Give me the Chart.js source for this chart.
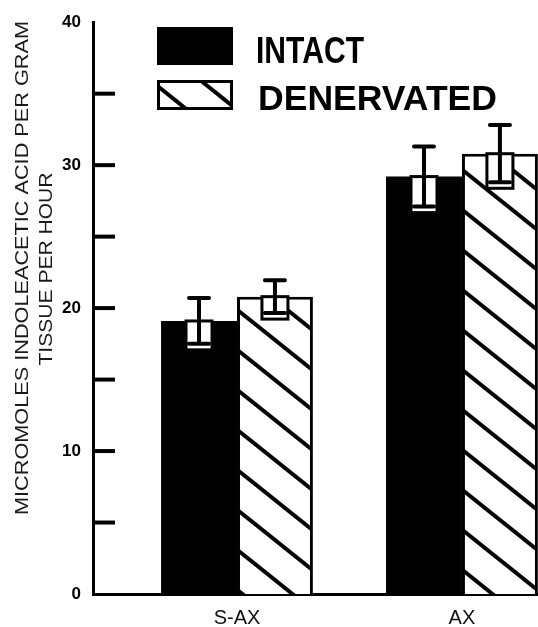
<!DOCTYPE html>
<html>
<head>
<meta charset="utf-8">
<script src="https://cdn.jsdelivr.net/npm/chart.js@4"></script>
<style>
body { margin: 0; background: #fff; }
canvas { display: block; }
</style>
</head>
<body>
<canvas id="iaaChart" width="538" height="627"></canvas>
<script>
const categories = ['S-AX', 'AX'];
const seriesNames = ['INTACT', 'DENERVATED'];
const intactValues = [19.1, 29.2];
const intactErrors = [1.6, 2.1];
const denervatedValues = [20.8, 30.8];
const denervatedErrors = [1.15, 2.0];
const yLabelTicks = [0, 10, 20, 30, 40];
const yTitle = ['MICROMOLES INDOLEACETIC ACID PER GRAM', 'TISSUE PER HOUR'];

const canvas = document.getElementById('iaaChart');
const ctx = canvas.getContext('2d');

// diagonal hatch, slope 0.8, 40px apart vertically
function makeHatch() {
  const tile = document.createElement('canvas');
  tile.width = 50;
  tile.height = 40;
  const g = tile.getContext('2d');
  g.fillStyle = '#fff';
  g.fillRect(0, 0, 50, 40);
  g.strokeStyle = '#000';
  g.lineWidth = 4;
  for (const n of [-1, 0, 1]) {
    g.beginPath();
    g.moveTo(-5, -4 + 40 * n);
    g.lineTo(55, 44 + 40 * n);
    g.stroke();
  }
  return ctx.createPattern(tile, 'repeat');
}
const hatch = makeHatch();

function fitText(c, text, x, y, width, font) {
  c.font = font;
  const w = c.measureText(text).width;
  c.save();
  c.translate(x, y);
  c.scale(width / w, 1);
  c.fillText(text, 0, 0);
  c.restore();
}

const errorBars = {
  id: 'errorBars',
  afterDatasetsDraw(chart) {
    const y = chart.scales.y;
    const c = chart.ctx;
    chart.data.datasets.forEach((ds, di) => {
      chart.getDatasetMeta(di).data.forEach((bar, i) => {
        const v = ds.data[i].y;
        const e = ds.errors[i];
        const top = y.getPixelForValue(v + e);
        const bot = y.getPixelForValue(v - e);
        c.save();
        c.fillStyle = '#fff';
        c.strokeStyle = '#000';
        c.lineWidth = 3;
        c.fillRect(bar.x - 13, bar.y, 26, bot + 6 - bar.y);
        c.strokeRect(bar.x - 13, bar.y, 26, bot + 6 - bar.y);
        c.lineWidth = 4;
        c.beginPath();
        c.moveTo(bar.x, top);
        c.lineTo(bar.x, bot);
        c.stroke();
        c.lineCap = 'round';
        c.beginPath();
        c.moveTo(bar.x - 10, top);
        c.lineTo(bar.x + 10, top);
        c.moveTo(bar.x - 10, bot);
        c.lineTo(bar.x + 10, bot);
        c.stroke();
        c.restore();
      });
    });
  }
};

const decorations = {
  id: 'decorations',
  afterDraw(chart) {
    const c = chart.ctx;
    const area = chart.chartArea;
    const y = chart.scales.y;
    c.save();
    // inward ticks
    c.strokeStyle = '#000';
    c.lineWidth = 4;
    y.ticks.forEach(t => {
      if (t.value <= y.min || t.value >= y.max) return;
      const py = y.getPixelForValue(t.value);
      c.beginPath();
      c.moveTo(area.left, py);
      c.lineTo(area.left + 22, py);
      c.stroke();
    });

    // legend
    c.fillStyle = '#000';
    c.fillRect(157, 27, 76, 38);
    c.fillStyle = hatch;
    c.fillRect(157, 80, 76, 30);
    c.lineWidth = 3;
    c.strokeRect(158.5, 81.5, 73, 27);
    c.fillStyle = '#000';
    c.textAlign = 'left';
    c.textBaseline = 'alphabetic';
    const ds = chart.data.datasets;
    fitText(c, ds[0].label, 256, 63, 108, 'bold 36px "Liberation Sans", Arial, sans-serif');
    fitText(c, ds[1].label, 258, 110, 239, 'bold 35px "Liberation Sans", Arial, sans-serif');

    // y title, two rotated lines
    c.fillStyle = '#1a1a1a';
    c.textAlign = 'center';
    c.save();
    c.translate(28, 268);
    c.rotate(-Math.PI / 2);
    fitText(c, yTitle[0], 0, 0, 494, '18px "Liberation Sans", Arial, sans-serif');
    c.restore();
    c.save();
    c.translate(52, 269);
    c.rotate(-Math.PI / 2);
    fitText(c, yTitle[1], 0, 0, 193, '18px "Liberation Sans", Arial, sans-serif');
    c.restore();
    c.restore();
  }
};

new Chart(ctx, {
  type: 'bar',
  data: {
    datasets: [
      {
        label: seriesNames[0],
        data: intactValues.map((v, i) => ({ x: i + 1, y: v })),
        errors: intactErrors,
        backgroundColor: '#000',
        borderWidth: 0
      },
      {
        label: seriesNames[1],
        data: denervatedValues.map((v, i) => ({ x: i + 1, y: v })),
        errors: denervatedErrors,
        backgroundColor: hatch,
        borderColor: '#000',
        borderWidth: 3
      }
    ]
  },
  options: {
    responsive: false,
    animation: false,
    layout: { padding: { top: 22, left: 0, right: 0, bottom: 0 } },
    datasets: { bar: { categoryPercentage: 0.675, barPercentage: 1 } },
    plugins: { legend: { display: false }, tooltip: { enabled: false } },
    scales: {
      x: {
        type: 'linear',
        offset: false,
        min: 0.36,
        max: 2.338,
        grid: { display: false, drawTicks: false, offset: false },
        border: { color: '#000', width: 3 },
        afterBuildTicks: s => { s.ticks = categories.map((c, i) => ({ value: i + 1 })); },
        afterFit: s => { s.height = 33; },
        ticks: {
          padding: 12,
          color: '#111',
          font: { size: 20, family: '"Liberation Sans", Arial, sans-serif' },
          callback: v => categories[v - 1] || ''
        }
      },
      y: {
        min: 0,
        max: 40,
        grid: { display: false, drawTicks: false },
        border: { color: '#000', width: 3 },
        afterFit: s => { s.width = 93; },
        ticks: {
          stepSize: 5,
          padding: 12,
          color: '#000',
          font: { size: 17, weight: 'bold', family: '"Liberation Sans", Arial, sans-serif' },
          callback: v => yLabelTicks.includes(v) ? v : ''
        }
      }
    }
  },
  plugins: [errorBars, decorations]
});
</script>
</body>
</html>
